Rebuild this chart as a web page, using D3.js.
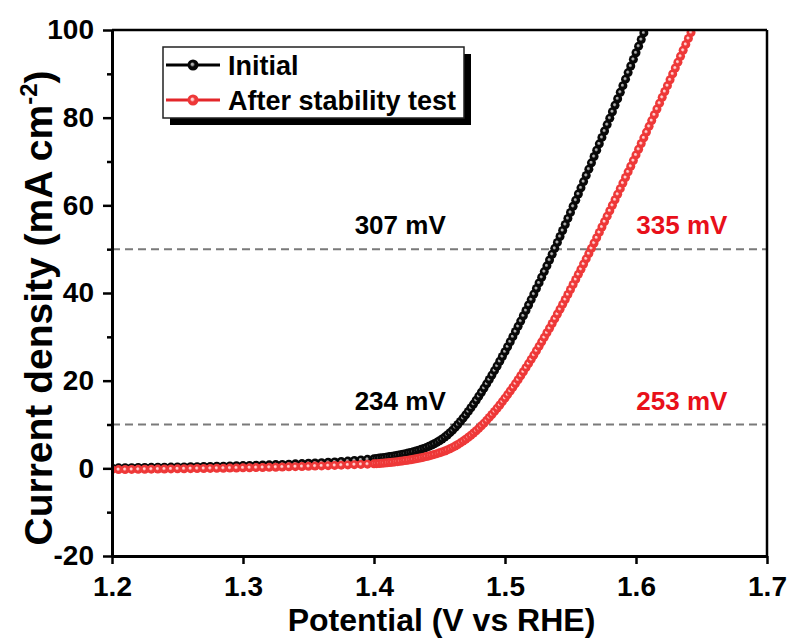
<!DOCTYPE html>
<html>
<head>
<meta charset="utf-8">
<script src="https://cdn.jsdelivr.net/npm/d3@7"></script>
<style>
  body { margin: 0; background: #fff; }
  text { font-family: "Liberation Sans", Arial, sans-serif; font-weight: bold; }
</style>
</head>
<body>
<div id="chart"></div>
<script>
const xTicks = [1.2, 1.3, 1.4, 1.5, 1.6, 1.7];
const yTicks = [-20, 0, 20, 40, 60, 80, 100];
const yMinorTicks = [-10, 10, 30, 50, 70, 90];
const seriesNames = ["Initial", "After stability test"];
const refCurrents = [50, 10];
const initialLabels = ["307 mV", "234 mV"];
const afterLabels = ["335 mV", "253 mV"];

// [potential (V vs RHE), current density (mA cm-2)]
const initialCurve = [
  [1.200,0.10],[1.205,0.12],[1.210,0.14],[1.215,0.16],[1.220,0.18],[1.225,0.20],[1.230,0.22],[1.235,0.24],[1.240,0.26],[1.245,0.28],
  [1.250,0.30],[1.255,0.32],[1.260,0.35],[1.265,0.38],[1.270,0.41],[1.275,0.44],[1.280,0.47],[1.285,0.50],[1.290,0.54],[1.295,0.58],
  [1.300,0.62],[1.305,0.66],[1.310,0.70],[1.315,0.75],[1.320,0.80],[1.325,0.85],[1.330,0.90],[1.335,0.96],[1.340,1.02],[1.345,1.08],
  [1.350,1.15],[1.355,1.22],[1.360,1.30],[1.365,1.38],[1.370,1.47],[1.375,1.56],[1.380,1.66],[1.385,1.78],[1.390,1.91],[1.395,2.05],
  [1.400,2.20],[1.402,2.27],[1.404,2.34],[1.406,2.42],[1.408,2.50],[1.410,2.59],[1.412,2.68],[1.414,2.78],[1.416,2.88],[1.418,2.99],
  [1.420,3.10],[1.422,3.22],[1.424,3.35],[1.426,3.49],[1.428,3.64],[1.430,3.80],[1.432,3.97],[1.434,4.15],[1.436,4.34],[1.438,4.55],
  [1.440,4.78],[1.442,5.03],[1.444,5.30],[1.446,5.60],[1.448,5.93],[1.450,6.29],[1.452,6.69],[1.454,7.13],[1.456,7.61],[1.458,8.14],
  [1.460,8.71],[1.462,9.34],[1.464,10.00],[1.466,10.71],[1.468,11.44],[1.470,12.20],[1.472,12.99],[1.474,13.81],[1.476,14.66],[1.478,15.54],
  [1.480,16.44],[1.482,17.36],[1.484,18.30],[1.486,19.27],[1.488,20.26],[1.490,21.27],[1.492,22.30],[1.494,23.35],[1.496,24.42],[1.498,25.51],
  [1.500,26.62],[1.502,27.74],[1.504,28.88],[1.506,30.04],[1.508,31.21],[1.510,32.39],[1.512,33.59],[1.514,34.80],[1.516,36.02],[1.518,37.25],
  [1.520,38.50],[1.522,39.75],[1.524,41.02],[1.526,42.30],[1.528,43.59],[1.530,44.89],[1.532,46.20],[1.534,47.52],[1.536,48.85],[1.538,50.19],
  [1.540,51.54],[1.542,52.90],[1.544,54.26],[1.546,55.63],[1.548,57.01],[1.550,58.39],[1.552,59.78],[1.554,61.18],[1.556,62.58],[1.558,63.99],
  [1.560,65.41],[1.562,66.83],[1.564,68.26],[1.566,69.70],[1.568,71.14],[1.570,72.58],[1.572,74.03],[1.574,75.49],[1.576,76.95],[1.578,78.42],
  [1.580,79.89],[1.582,81.36],[1.584,82.84],[1.586,84.32],[1.588,85.81],[1.590,87.30],[1.592,88.79],[1.594,90.29],[1.596,91.79],[1.598,93.29],
  [1.600,94.80],[1.602,96.31],[1.604,97.82],[1.606,99.34],[1.608,100.86],[1.610,102.38]
];

const afterCurve = [
  [1.200,-0.30],[1.205,-0.29],[1.210,-0.27],[1.215,-0.25],[1.220,-0.23],[1.225,-0.21],[1.230,-0.19],[1.235,-0.17],[1.240,-0.15],[1.245,-0.13],
  [1.250,-0.11],[1.255,-0.09],[1.260,-0.07],[1.265,-0.05],[1.270,-0.03],[1.275,-0.01],[1.280,0.01],[1.285,0.03],[1.290,0.05],[1.295,0.08],
  [1.300,0.11],[1.305,0.14],[1.310,0.17],[1.315,0.20],[1.320,0.23],[1.325,0.26],[1.330,0.30],[1.335,0.34],[1.340,0.38],[1.345,0.42],
  [1.350,0.46],[1.355,0.51],[1.360,0.56],[1.365,0.61],[1.370,0.66],[1.375,0.72],[1.380,0.78],[1.385,0.84],[1.390,0.90],[1.395,0.96],
  [1.400,1.02],[1.402,1.06],[1.404,1.11],[1.406,1.16],[1.408,1.21],[1.410,1.27],[1.412,1.33],[1.414,1.39],[1.416,1.46],[1.418,1.53],
  [1.420,1.61],[1.422,1.69],[1.424,1.78],[1.426,1.87],[1.428,1.97],[1.430,2.07],[1.432,2.18],[1.434,2.30],[1.436,2.42],[1.438,2.55],
  [1.440,2.69],[1.442,2.84],[1.444,3.00],[1.446,3.17],[1.448,3.35],[1.450,3.54],[1.452,3.74],[1.454,3.96],[1.456,4.21],[1.458,4.48],
  [1.460,4.78],[1.462,5.10],[1.464,5.45],[1.466,5.82],[1.468,6.22],[1.470,6.64],[1.472,7.09],[1.474,7.56],[1.476,8.06],[1.478,8.58],
  [1.480,9.13],[1.482,9.71],[1.484,10.31],[1.486,10.95],[1.488,11.61],[1.490,12.29],[1.492,12.99],[1.494,13.71],[1.496,14.46],[1.498,15.22],
  [1.500,16.01],[1.502,16.82],[1.504,17.64],[1.506,18.48],[1.508,19.34],[1.510,20.22],[1.512,21.12],[1.514,22.03],[1.516,22.96],[1.518,23.90],
  [1.520,24.86],[1.522,25.84],[1.524,26.83],[1.526,27.83],[1.528,28.85],[1.530,29.88],[1.532,30.92],[1.534,31.97],[1.536,33.03],[1.538,34.11],
  [1.540,35.20],[1.542,36.30],[1.544,37.41],[1.546,38.53],[1.548,39.66],[1.550,40.80],[1.552,41.95],[1.554,43.10],[1.556,44.26],[1.558,45.43],
  [1.560,46.61],[1.562,47.80],[1.564,48.99],[1.566,50.19],[1.568,51.40],[1.570,52.61],[1.572,53.83],[1.574,55.06],[1.576,56.29],[1.578,57.53],
  [1.580,58.77],[1.582,60.02],[1.584,61.28],[1.586,62.54],[1.588,63.81],[1.590,65.08],[1.592,66.36],[1.594,67.64],[1.596,68.92],[1.598,70.21],
  [1.600,71.50],[1.602,72.80],[1.604,74.10],[1.606,75.40],[1.608,76.71],[1.610,78.02],[1.612,79.34],[1.614,80.66],[1.616,81.98],[1.618,83.31],
  [1.620,84.64],[1.622,85.97],[1.624,87.30],[1.626,88.64],[1.628,89.98],[1.630,91.32],[1.632,92.67],[1.634,94.02],[1.636,95.37],[1.638,96.72],
  [1.640,98.08],[1.642,99.44],[1.644,100.80],[1.646,102.16]
];

const margin = {top: 30, right: 25, bottom: 86, left: 112};
const width = 792 - margin.left - margin.right;
const height = 642 - margin.top - margin.bottom;

const x = d3.scaleLinear().domain([1.2, 1.7]).range([0, width]);
const y = d3.scaleLinear().domain([-20, 100]).range([height, 0]);

const svgRoot = d3.select("#chart").append("svg")
  .attr("width", 792)
  .attr("height", 642);

const defs = svgRoot.append("defs");
defs.append("clipPath").attr("id", "plot-clip")
  .append("rect").attr("width", width).attr("height", height);

// sphere-like markers: small light spot on a solid ball
function ballGradient(id, hi, base) {
  const g = defs.append("radialGradient").attr("id", id)
    .attr("cx", "50%").attr("cy", "50%").attr("r", "50%")
    .attr("fx", "42%").attr("fy", "42%");
  g.append("stop").attr("offset", "0%").attr("stop-color", hi);
  g.append("stop").attr("offset", "18%").attr("stop-color", hi);
  g.append("stop").attr("offset", "45%").attr("stop-color", base);
  g.append("stop").attr("offset", "100%").attr("stop-color", base);
}
ballGradient("ball-black", "#b0b0b0", "#080808");
ballGradient("ball-red", "#ffd0d0", "#ee3838");

const series = [
  {name: seriesNames[0], data: initialCurve, line: "#000", fill: "url(#ball-black)"},
  {name: seriesNames[1], data: afterCurve, line: "#e3262a", fill: "url(#ball-red)"}
];

const svg = svgRoot.append("g")
  .attr("transform", `translate(${margin.left},${margin.top})`);

// reference lines at 10 and 50 mA cm-2
svg.selectAll(".ref")
  .data(refCurrents)
  .enter().append("line")
  .attr("x1", x(1.2)).attr("x2", x(1.7))
  .attr("y1", d => y(d)).attr("y2", d => y(d))
  .attr("stroke", "#7a7a7a")
  .attr("stroke-width", 2)
  .attr("stroke-dasharray", "8,5");

const line = d3.line().x(d => x(d[0])).y(d => y(d[1]));
const plot = svg.append("g").attr("clip-path", "url(#plot-clip)");

series.forEach(s => {
  plot.append("path")
    .datum(s.data)
    .attr("fill", "none")
    .attr("stroke", s.line)
    .attr("stroke-width", 2)
    .attr("d", line);
  plot.append("g").selectAll("circle")
    .data(s.data)
    .enter().append("circle")
    .attr("cx", d => x(d[0]))
    .attr("cy", d => y(d[1]))
    .attr("r", 4.5)
    .attr("fill", s.fill);
});

// overpotential labels
const labelRows = [
  {text: initialLabels[0], v: 1.42, j: refCurrents[0], color: "#000"},
  {text: initialLabels[1], v: 1.42, j: refCurrents[1], color: "#000"},
  {text: afterLabels[0], v: 1.635, j: refCurrents[0], color: "#e8101a"},
  {text: afterLabels[1], v: 1.635, j: refCurrents[1], color: "#e8101a"}
];
svg.selectAll(".eta")
  .data(labelRows)
  .enter().append("text")
  .attr("x", d => x(d.v))
  .attr("y", d => y(d.j) - 15)
  .attr("text-anchor", "middle")
  .attr("font-size", 26)
  .attr("fill", d => d.color)
  .text(d => d.text);

// axes
const xAxis = svg.append("g")
  .attr("transform", `translate(0,${height})`)
  .call(d3.axisBottom(x).tickValues(xTicks).tickFormat(d3.format(".1f"))
    .tickSize(8).tickSizeOuter(0).tickPadding(12));

const yAxis = svg.append("g")
  .call(d3.axisLeft(y).tickValues(yTicks).tickFormat(d => String(d))
    .tickSize(9).tickSizeOuter(0).tickPadding(9));

svg.append("g")
  .call(d3.axisLeft(y).tickValues(yMinorTicks).tickSize(5).tickFormat(""))
  .select(".domain").remove();

[xAxis, yAxis].forEach(a => {
  a.select(".domain").attr("stroke-width", 3);
  a.selectAll(".tick text").attr("font-size", 28).attr("fill", "#000")
    .style("font-family", '"Liberation Sans", Arial, sans-serif').style("font-weight", "bold");
});
svg.selectAll(".tick line").attr("stroke-width", 2.5);

// top and right frame
svg.append("line").attr("x1", x(1.2)).attr("x2", x(1.7)).attr("y1", y(100)).attr("y2", y(100))
  .attr("stroke", "#000").attr("stroke-width", 2.5);
svg.append("line").attr("x1", x(1.7)).attr("x2", x(1.7)).attr("y1", y(100)).attr("y2", y(-20))
  .attr("stroke", "#000").attr("stroke-width", 2.5);

// axis titles
svgRoot.append("text")
  .attr("x", margin.left + width / 2 + 2)
  .attr("y", 631)
  .attr("text-anchor", "middle")
  .attr("font-size", 32)
  .text("Potential (V vs RHE)");

const yTitle = svgRoot.append("text")
  .attr("transform", "translate(52,308) rotate(-90)")
  .attr("text-anchor", "middle")
  .attr("font-size", 39);
yTitle.append("tspan").text("Current density (mA cm");
yTitle.append("tspan").attr("font-size", 24).attr("dy", -15).text("-2");
yTitle.append("tspan").attr("dy", 15).text(")");

// legend
const legend = svgRoot.append("g").attr("transform", "translate(163,47)");
legend.append("rect").attr("x", 7).attr("y", 7).attr("width", 301).attr("height", 71).attr("fill", "#000");
legend.append("rect").attr("width", 301).attr("height", 71)
  .attr("fill", "#fff").attr("stroke", "#222").attr("stroke-width", 1.5);
const items = legend.selectAll(".item")
  .data(series)
  .enter().append("g")
  .attr("transform", (d, i) => `translate(0,${18 + i * 35})`);
items.append("line").attr("x1", 3).attr("x2", 57).attr("stroke", d => d.line).attr("stroke-width", 3);
items.append("circle").attr("cx", 30).attr("r", 5.5).attr("fill", d => d.fill);
items.append("text").attr("x", 65).attr("y", 10).attr("font-size", 27).text(d => d.name);
</script>
</body>
</html>
